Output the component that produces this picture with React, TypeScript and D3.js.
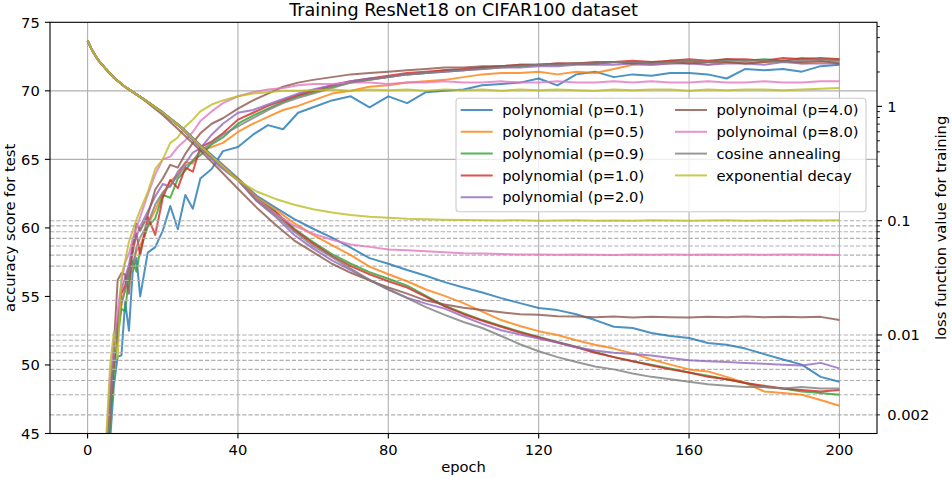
import * as d3 from "d3";

// ---- data ----
const SERIES_NAMES = [
  "polynomial (p=0.1)",
  "polynomial (p=0.5)",
  "polynomial (p=0.9)",
  "polynomial (p=1.0)",
  "polynomial (p=2.0)",
  "polynoimal (p=4.0)",
  "polynoimal (p=8.0)",
  "cosine annealing",
  "exponential decay",
];
const COLORS = [
  "#1f77b4", "#ff7f0e", "#2ca02c", "#d62728", "#9467bd",
  "#8c564b", "#e377c2", "#7f7f7f", "#bcbd22",
];

const ACC_EPOCHS = [
  0, 4, 5, 6, 7, 8, 9, 10, 11, 12, 13, 14, 16, 18, 20, 22, 24, 26, 28, 30,
  33, 36, 40, 44, 48, 52, 56, 60, 65, 70, 75, 80, 85, 90, 95, 100, 105, 110,
  115, 120, 125, 130, 135, 140, 145, 150, 155, 160, 165, 170, 175, 180, 185,
  190, 195, 200,
];

const ACC_P01 = [
  12, 36, 40.5, 44.5, 48.5, 50.6, 50.7, 54.6, 52.5, 56.8, 57.8, 55, 58.2, 58.6, 59.8, 61.6, 59.9, 62.4, 61.4, 63.6,
  64.3, 65.6, 65.9, 66.8, 67.5, 67.2, 68.4, 68.8, 69.3, 69.6, 68.8, 69.6, 69.1, 69.9, 70.0, 70.1, 70.4, 70.5,
  70.6, 70.9, 70.4, 71.2, 71.4, 71.0, 71.2, 71.1, 71.3, 71.3, 71.2, 70.9, 71.6, 71.5, 71.6, 71.4, 71.8, 71.9,
];
const ACC_P05 = [
  14, 37, 42, 46.5, 50, 52.5, 54.3, 55.6, 56.3, 57.2, 58.3, 58.7, 60.2, 61.3, 62.5, 63.4, 63.9, 64.8, 64.7, 65.6,
  65.9, 66.2, 67.0, 67.6, 68.1, 68.6, 68.9, 69.3, 69.8, 70.0, 70.3, 70.4, 70.6, 70.7, 70.8, 71.0, 71.2, 71.3,
  71.3, 71.4, 71.2, 71.4, 71.3, 71.6, 71.9, 71.9, 72.0, 72.1, 71.9, 72.1, 72.0, 72.1, 72.2, 72.0, 72.1, 72.2,
];
const ACC_P09 = [
  13, 36.5, 41.5, 46, 49.5, 52, 54.1, 53.9, 56.5, 57.6, 56.8, 58.4, 60.1, 60.7, 62.4, 62.2, 63.6, 64.2, 64.9, 65.3,
  66.1, 66.6, 67.6, 68.2, 68.7, 69.2, 69.6, 69.9, 70.3, 70.6, 70.8, 71.0, 71.2, 71.3, 71.5, 71.5, 71.7, 71.8,
  71.8, 71.9, 71.9, 72.0, 72.0, 72.1, 72.1, 72.0, 72.2, 72.2, 72.1, 72.3, 72.2, 72.3, 72.2, 72.4, 72.3, 72.3,
];
const ACC_P10 = [
  13, 37, 42, 46.8, 50.2, 52.6, 55.2, 55.8, 57.1, 58.2, 59.6, 58.0, 60.8, 59.5, 62.2, 63.5, 62.9, 64.4, 64.1, 65.9,
  66.3, 66.9, 67.9, 68.4, 68.9, 69.3, 69.7, 70.0, 70.4, 70.7, 70.9, 71.1, 71.3, 71.4, 71.5, 71.6, 71.7, 71.8,
  71.9, 71.9, 72.0, 72.0, 72.1, 72.1, 72.2, 72.1, 72.2, 72.3, 72.2, 72.3, 72.3, 72.2, 72.4, 72.3, 72.4, 72.3,
];
const ACC_P20 = [
  14, 38, 43, 47.5, 51, 53.3, 55.5, 56.4, 57.3, 58.8, 59.4, 60.1, 61.2, 62.3, 63.2, 63.0, 64.1, 64.7, 65.5, 65.8,
  66.8, 67.6, 68.4, 68.6, 69.0, 69.4, 69.8, 70.1, 70.4, 70.7, 70.9, 71.0, 71.2, 71.3, 71.4, 71.5, 71.6, 71.7,
  71.7, 71.8, 71.8, 71.9, 71.9, 71.9, 72.0, 71.9, 72.0, 72.0, 71.9, 72.0, 72.0, 71.9, 72.1, 72.0, 72.0, 72.0,
];
const ACC_P40 = [
  15, 38.5, 43.5, 48, 51.5, 56.2, 56.7, 56.6, 55.2, 58.7, 60.3, 59.8, 60.9, 62.8, 63.6, 64.6, 64.4, 65.4, 66.2, 66.9,
  67.6, 68.0, 68.7, 69.3, 69.8, 70.3, 70.6, 70.8, 71.0, 71.2, 71.3, 71.4, 71.5, 71.6, 71.7, 71.7, 71.8, 71.8,
  71.9, 71.9, 72.0, 72.0, 72.0, 72.1, 72.0, 72.1, 72.1, 72.0, 72.1, 72.1, 72.0, 72.1, 72.2, 72.1, 72.2, 72.0,
];
const ACC_P80 = [
  15, 39, 44, 49, 51.2, 54, 56, 57.5, 58.1, 59.2, 60, 60.8, 62.4, 63.9, 65.0, 65.2, 65.9, 66.4, 67.0, 67.8,
  68.5, 69.1, 69.6, 69.9, 70.1, 70.2, 70.4, 70.5, 70.5, 70.6, 70.6, 70.5, 70.6, 70.6, 70.7, 70.6, 70.6, 70.7,
  70.6, 70.6, 70.7, 70.6, 70.6, 70.7, 70.6, 70.7, 70.6, 70.6, 70.7, 70.6, 70.6, 70.7, 70.6, 70.6, 70.7, 70.7,
];
const ACC_COS = [
  13, 37, 42.5, 47, 50.5, 53, 54.6, 55.4, 56.9, 57.2, 58.6, 59.3, 60.3, 61.7, 62.6, 63.1, 63.8, 64.5, 64.9, 65.6,
  66.2, 66.8, 67.4, 68.0, 68.6, 69.1, 69.5, 69.8, 70.2, 70.6, 70.8, 71.0, 71.2, 71.3, 71.4, 71.5, 71.6, 71.7,
  71.8, 71.9, 71.9, 72.0, 72.0, 72.1, 72.1, 72.0, 72.1, 72.2, 72.1, 72.2, 72.2, 72.2, 72.1, 72.2, 72.3, 72.2,
];
const ACC_EXP = [
  16, 40, 45, 50, 52.4, 50.5, 56.5, 57.6, 59, 59.8, 60.6, 61.3, 62.6, 64.3, 65.0, 66.2, 66.6, 67.4, 67.9, 68.5,
  69.0, 69.3, 69.6, 69.8, 69.9, 70.0, 70.0, 70.05, 70.1, 70.0, 70.1, 70.05, 70.1, 70.0, 70.1, 70.05, 70.1, 70.0,
  70.1, 70.05, 70.1, 70.05, 70.0, 70.1, 70.05, 70.1, 70.1, 70.0, 70.1, 70.05, 70.1, 70.1, 70.05, 70.1, 70.15, 70.2,
];

const LOSS_EPOCHS = [
  0, 1, 2, 3, 5, 7, 10, 15, 20, 25, 30, 35, 40, 45, 50, 55, 60, 65, 70, 75, 80,
  85, 90, 95, 100, 105, 110, 115, 120, 125, 130, 135, 140, 145, 150, 155, 160,
  165, 170, 175, 180, 185, 190, 195, 200,
];

const LOSS_P01 = [
  3.75, 3.2, 2.8, 2.5, 2.1, 1.78, 1.48, 1.16, 0.89, 0.66, 0.46, 0.33, 0.235, 0.165, 0.13, 0.103, 0.085, 0.071,
  0.058, 0.047, 0.042, 0.037, 0.033, 0.029, 0.026, 0.0235, 0.021, 0.019, 0.0172, 0.0165, 0.0152, 0.0135, 0.0118,
  0.0115, 0.0104, 0.0098, 0.0094, 0.0085, 0.0082, 0.0076, 0.0068, 0.0061, 0.0055, 0.0043, 0.0039,
];
const LOSS_P05 = [
  3.75, 3.2, 2.8, 2.5, 2.1, 1.78, 1.48, 1.15, 0.88, 0.65, 0.45, 0.32, 0.232, 0.16, 0.125, 0.095, 0.075, 0.061,
  0.05, 0.0396, 0.034, 0.0295, 0.025, 0.022, 0.019, 0.016, 0.0135, 0.012, 0.0108, 0.01, 0.009, 0.0082, 0.0076,
  0.0069, 0.0061, 0.0055, 0.005, 0.0048, 0.0043, 0.0038, 0.0032, 0.0031, 0.003, 0.0027, 0.0024,
];
const LOSS_P09 = [
  3.75, 3.2, 2.8, 2.5, 2.1, 1.78, 1.48, 1.15, 0.88, 0.65, 0.45, 0.32, 0.23, 0.155, 0.12, 0.085, 0.065, 0.051,
  0.042, 0.0355, 0.031, 0.027, 0.022, 0.018, 0.0155, 0.0135, 0.012, 0.0107, 0.0096, 0.0087, 0.0079, 0.0071,
  0.0064, 0.0059, 0.0055, 0.0051, 0.0047, 0.0044, 0.0041, 0.0038, 0.0035, 0.0034, 0.0032, 0.0031, 0.003,
];
const LOSS_P10 = [
  3.75, 3.2, 2.8, 2.5, 2.1, 1.78, 1.48, 1.15, 0.88, 0.65, 0.45, 0.32, 0.228, 0.152, 0.118, 0.083, 0.063, 0.049,
  0.04, 0.034, 0.0295, 0.026, 0.0215, 0.0178, 0.0152, 0.0133, 0.0118, 0.0105, 0.0095, 0.0086, 0.0078, 0.007,
  0.0064, 0.0059, 0.0054, 0.005, 0.0047, 0.0043, 0.0041, 0.0038, 0.0036, 0.0034, 0.0033, 0.0032, 0.0033,
];
const LOSS_P20 = [
  3.75, 3.2, 2.8, 2.5, 2.1, 1.78, 1.48, 1.15, 0.87, 0.64, 0.43, 0.3, 0.225, 0.148, 0.108, 0.075, 0.057, 0.045,
  0.037, 0.0303, 0.025, 0.0212, 0.0188, 0.017, 0.0145, 0.0125, 0.011, 0.0101, 0.0093, 0.0086, 0.0078, 0.0073,
  0.007, 0.0068, 0.0066, 0.0063, 0.006, 0.0059, 0.0058, 0.0057, 0.0056, 0.0055, 0.0054, 0.0057, 0.0051,
];
const LOSS_P40 = [
  3.75, 3.2, 2.8, 2.5, 2.1, 1.78, 1.48, 1.14, 0.84, 0.59, 0.41, 0.28, 0.19, 0.13, 0.092, 0.067, 0.053, 0.042,
  0.035, 0.03, 0.026, 0.023, 0.02, 0.0185, 0.0173, 0.0165, 0.0158, 0.0152, 0.015, 0.0146, 0.0145, 0.0143, 0.0145,
  0.0142, 0.0144, 0.0143, 0.0142, 0.0144, 0.0143, 0.0145, 0.0143, 0.0144, 0.0143, 0.0144, 0.0135,
];
const LOSS_P80 = [
  3.75, 3.2, 2.8, 2.5, 2.1, 1.78, 1.48, 1.15, 0.88, 0.65, 0.45, 0.32, 0.23, 0.155, 0.115, 0.09, 0.077, 0.068,
  0.062, 0.059, 0.056, 0.055, 0.054, 0.053, 0.052, 0.0515, 0.051, 0.0505, 0.0507, 0.0503, 0.0506, 0.0504, 0.0502,
  0.0506, 0.0504, 0.0505, 0.0503, 0.0506, 0.0504, 0.0505, 0.0503, 0.0506, 0.0505, 0.0504, 0.0502,
];
const LOSS_COS = [
  3.75, 3.2, 2.8, 2.5, 2.1, 1.78, 1.48, 1.15, 0.88, 0.65, 0.44, 0.31, 0.228, 0.15, 0.112, 0.08, 0.06, 0.048,
  0.038, 0.0303, 0.025, 0.021, 0.0175, 0.015, 0.013, 0.0115, 0.0098, 0.0083, 0.0072, 0.0064, 0.0058, 0.0053,
  0.005, 0.0046, 0.0043, 0.0041, 0.0039, 0.0037, 0.0036, 0.0035, 0.0035, 0.0034, 0.0035, 0.0034, 0.0034,
];
const LOSS_EXP = [
  3.75, 3.2, 2.8, 2.5, 2.1, 1.78, 1.48, 1.15, 0.88, 0.65, 0.45, 0.32, 0.225, 0.18, 0.155, 0.138, 0.126, 0.118,
  0.112, 0.108, 0.106, 0.104, 0.103, 0.102, 0.1015, 0.101, 0.1005, 0.101, 0.1, 0.1005, 0.101, 0.1, 0.1005,
  0.1, 0.101, 0.1005, 0.1, 0.1005, 0.101, 0.1, 0.1005, 0.1, 0.101, 0.1005, 0.101,
];

const ACC_SERIES = [ACC_P01, ACC_P05, ACC_P09, ACC_P10, ACC_P20, ACC_P40, ACC_P80, ACC_COS, ACC_EXP];
const LOSS_SERIES = [LOSS_P01, LOSS_P05, LOSS_P09, LOSS_P10, LOSS_P20, LOSS_P40, LOSS_P80, LOSS_COS, LOSS_EXP];

const X_TICKS = [0, 40, 80, 120, 160, 200];
const ACC_TICKS = [45, 50, 55, 60, 65, 70, 75];
const ACC_GRID = [65, 70];
const LOSS_MAJOR = [1, 0.1, 0.01];
const LOSS_LABELS = [
  { v: 1, t: "1" },
  { v: 0.1, t: "0.1" },
  { v: 0.01, t: "0.01" },
  { v: 0.002, t: "0.002" },
];
const LOSS_GRID = [
  0.1, 0.09, 0.08, 0.07, 0.06, 0.05, 0.04, 0.03, 0.02,
  0.01, 0.009, 0.008, 0.007, 0.006, 0.005, 0.004, 0.003, 0.002,
];

// ---- layout ----
const W = 952;
const H = 479;
const left = 50;
const right = 877;
const top = 22.3;
const bottom = 433.5;
const FONT = "DejaVu Sans, sans-serif";
const GRID = "#b0b0b0";
const FS = 14.7;
const TICK = 5.1;

export default function App() {
  const x = d3.scaleLinear().domain([-10, 210]).range([left, right]);
  const yAcc = d3.scaleLinear().domain([45, 75]).range([bottom, top]);
  const yLoss = d3.scaleLog().domain([0.001374, 5.44]).range([bottom, top]);

  const accLine = d3
    .line<number>()
    .x((_d, i) => x(ACC_EPOCHS[i]))
    .y((d) => yAcc(d));
  const lossLine = d3
    .line<number>()
    .x((_d, i) => x(LOSS_EPOCHS[i]))
    .y((d) => yLoss(d));

  // minor ticks of the log axis
  const minor: number[] = [];
  [0.001, 0.01, 0.1, 1].forEach((dec) => {
    for (let k = 2; k <= 9; k++) {
      const v = dec * k;
      if (v >= 0.001374 && v <= 5.44) minor.push(v);
    }
  });

  const cy = (top + bottom) / 2;
  const legX = 456;
  const legY = 98.3;
  const rowH = 21.8;

  return (
    <svg
      width={W}
      height={H}
      viewBox={`0 0 ${W} ${H}`}
      style={{ position: "absolute", left: 0, top: 0, background: "#fff" }}
      fontFamily={FONT}
    >
      <defs>
        <clipPath id="plot">
          <rect x={left} y={top} width={right - left} height={bottom - top} />
        </clipPath>
      </defs>

      {/* grid */}
      {X_TICKS.map((t) => (
        <line key={"gx" + t} x1={x(t)} x2={x(t)} y1={top} y2={bottom} stroke={GRID} strokeWidth={1.1} />
      ))}
      {ACC_GRID.map((t) => (
        <line key={"gy" + t} x1={left} x2={right} y1={yAcc(t)} y2={yAcc(t)} stroke={GRID} strokeWidth={1.1} />
      ))}

      {/* accuracy curves */}
      <g clipPath="url(#plot)" fill="none" strokeWidth={2} strokeLinejoin="round">
        {ACC_SERIES.map((s, i) => (
          <path key={"a" + i} d={accLine(s) || ""} stroke={COLORS[i]} strokeOpacity={0.8} />
        ))}
      </g>

      {/* dashed grid of the loss axis */}
      {LOSS_GRID.map((v) => (
        <line
          key={"gl" + v}
          x1={left}
          x2={right}
          y1={yLoss(v)}
          y2={yLoss(v)}
          stroke={GRID}
          strokeWidth={1.1}
          strokeDasharray="4.3,1.9"
        />
      ))}

      {/* loss curves */}
      <g clipPath="url(#plot)" fill="none" strokeWidth={2} strokeLinejoin="round">
        {LOSS_SERIES.map((s, i) => (
          <path key={"l" + i} d={lossLine(s) || ""} stroke={COLORS[i]} strokeOpacity={0.8} />
        ))}
      </g>

      {/* frame */}
      <rect x={left} y={top} width={right - left} height={bottom - top} fill="none" stroke="#000" strokeWidth={1.1} />

      {/* x axis */}
      {X_TICKS.map((t) => (
        <g key={"xt" + t}>
          <line x1={x(t)} x2={x(t)} y1={bottom} y2={bottom + TICK} stroke="#000" strokeWidth={1.1} />
          <text x={x(t)} y={455} fontSize={FS} textAnchor="middle">
            {t}
          </text>
        </g>
      ))}
      <text x={(left + right) / 2} y={471.5} fontSize={FS} textAnchor="middle">
        epoch
      </text>

      {/* left axis */}
      {ACC_TICKS.map((t) => (
        <g key={"yt" + t}>
          <line x1={left - TICK} x2={left} y1={yAcc(t)} y2={yAcc(t)} stroke="#000" strokeWidth={1.1} />
          <text x={left - TICK - 5.1} y={yAcc(t)} dy="0.36em" fontSize={FS} textAnchor="end">
            {t}
          </text>
        </g>
      ))}
      <text transform={`translate(14.5,${cy}) rotate(-90)`} fontSize={FS} textAnchor="middle">
        accuracy score for test
      </text>

      {/* right axis */}
      {LOSS_MAJOR.map((v) => (
        <line key={"rm" + v} x1={right} x2={right + TICK} y1={yLoss(v)} y2={yLoss(v)} stroke="#000" strokeWidth={1.1} />
      ))}
      {minor.map((v) => (
        <line key={"rn" + v} x1={right} x2={right + 2.9} y1={yLoss(v)} y2={yLoss(v)} stroke="#000" strokeWidth={0.9} />
      ))}
      {LOSS_LABELS.map((l) => (
        <text key={"rl" + l.t} x={right + TICK + 5.1} y={yLoss(l.v)} dy="0.36em" fontSize={FS}>
          {l.t}
        </text>
      ))}
      <text transform={`translate(946,${cy}) rotate(-90)`} fontSize={FS} textAnchor="middle">
        loss function value for training
      </text>

      {/* title */}
      <text x={(left + right) / 2} y={16} fontSize={17.6} textAnchor="middle">
        Training ResNet18 on CIFAR100 dataset
      </text>

      {/* legend */}
      <rect
        x={legX}
        y={legY}
        width={410}
        height={113.4}
        rx={3}
        fill="#fff"
        fillOpacity={0.8}
        stroke="#cccccc"
        strokeWidth={1.1}
      />
      {SERIES_NAMES.map((name, i) => {
        const col = i < 5 ? 0 : 1;
        const row = i < 5 ? i : i - 5;
        const hx = col === 0 ? 460.7 : 675;
        const ty = 110 + row * rowH;
        return (
          <g key={"lg" + i}>
            <line x1={hx} x2={hx + 32} y1={ty} y2={ty} stroke={COLORS[i]} strokeOpacity={0.8} strokeWidth={2} />
            <text x={hx + 41.5} y={ty} dy="0.36em" fontSize={FS}>
              {name}
            </text>
          </g>
        );
      })}
    </svg>
  );
}
